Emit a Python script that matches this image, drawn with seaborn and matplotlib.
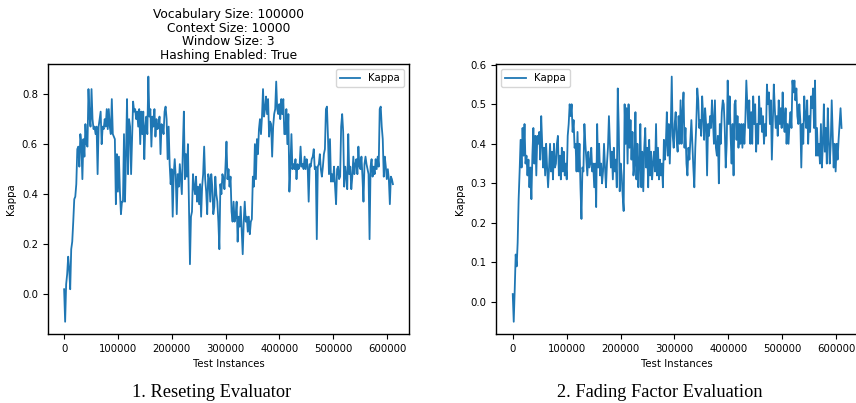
import numpy as np
import pandas as pd
import matplotlib
matplotlib.use("Agg")
import matplotlib.pyplot as plt
import seaborn as sns

# Kappa readings, one every ~1850 test instances
reset_kappa = [
    0.02, -0.11, 0.04, 0.08, 0.15, 0.10, 0.02, 0.18, 0.21, 0.29, 0.38, 0.39, 0.44, 0.58, 0.59, 0.51,
    0.64, 0.60, 0.46, 0.62, 0.55, 0.68, 0.60, 0.59, 0.82, 0.71, 0.67, 0.82, 0.70, 0.66, 0.67, 0.64,
    0.67, 0.48, 0.67, 0.70, 0.73, 0.60, 0.67, 0.66, 0.70, 0.67, 0.74, 0.66, 0.74, 0.67, 0.64, 0.78,
    0.64, 0.63, 0.62, 0.36, 0.56, 0.41, 0.55, 0.41, 0.32, 0.37, 0.37, 0.64, 0.37, 0.56, 0.78, 0.48,
    0.70, 0.67, 0.48, 0.62, 0.77, 0.73, 0.74, 0.70, 0.73, 0.67, 0.74, 0.60, 0.73, 0.64, 0.73, 0.54,
    0.67, 0.71, 0.64, 0.87, 0.71, 0.74, 0.59, 0.71, 0.67, 0.74, 0.63, 0.70, 0.66, 0.67, 0.71, 0.56,
    0.68, 0.67, 0.64, 0.73, 0.75, 0.70, 0.54, 0.67, 0.52, 0.44, 0.50, 0.31, 0.48, 0.54, 0.47, 0.32,
    0.48, 0.43, 0.52, 0.46, 0.40, 0.58, 0.73, 0.46, 0.56, 0.47, 0.60, 0.37, 0.12, 0.31, 0.33, 0.48,
    0.43, 0.40, 0.47, 0.37, 0.43, 0.36, 0.44, 0.31, 0.43, 0.48, 0.59, 0.46, 0.41, 0.32, 0.48, 0.46,
    0.37, 0.48, 0.43, 0.32, 0.35, 0.47, 0.40, 0.37, 0.29, 0.18, 0.44, 0.40, 0.48, 0.46, 0.42, 0.51,
    0.61, 0.46, 0.50, 0.43, 0.47, 0.33, 0.29, 0.37, 0.29, 0.31, 0.37, 0.21, 0.31, 0.27, 0.35, 0.25,
    0.16, 0.29, 0.37, 0.29, 0.31, 0.25, 0.31, 0.24, 0.29, 0.30, 0.47, 0.43, 0.60, 0.46, 0.62, 0.56,
    0.66, 0.70, 0.64, 0.71, 0.82, 0.71, 0.74, 0.79, 0.72, 0.78, 0.63, 0.69, 0.68, 0.55, 0.67, 0.72,
    0.74, 0.85, 0.74, 0.72, 0.76, 0.70, 0.78, 0.72, 0.78, 0.64, 0.64, 0.74, 0.60, 0.72, 0.41, 0.51,
    0.64, 0.50, 0.52, 0.50, 0.54, 0.46, 0.52, 0.50, 0.51, 0.59, 0.51, 0.52, 0.50, 0.55, 0.50, 0.54,
    0.51, 0.37, 0.52, 0.51, 0.54, 0.55, 0.58, 0.50, 0.51, 0.22, 0.51, 0.52, 0.56, 0.50, 0.47, 0.51,
    0.56, 0.58, 0.74, 0.75, 0.63, 0.48, 0.62, 0.45, 0.48, 0.45, 0.51, 0.43, 0.36, 0.50, 0.51, 0.46,
    0.47, 0.67, 0.72, 0.65, 0.43, 0.51, 0.47, 0.42, 0.64, 0.48, 0.51, 0.42, 0.47, 0.55, 0.48, 0.52,
    0.54, 0.48, 0.59, 0.51, 0.50, 0.55, 0.47, 0.37, 0.52, 0.55, 0.52, 0.50, 0.48, 0.22, 0.51, 0.54,
    0.47, 0.51, 0.48, 0.54, 0.50, 0.55, 0.51, 0.74, 0.75, 0.67, 0.62, 0.47, 0.55, 0.51, 0.46, 0.50,
    0.46, 0.36, 0.47, 0.46, 0.44,
]

fading_kappa = [
    0.02, -0.05, 0.03, 0.12, 0.09, 0.15, 0.26, 0.33,
    0.41, 0.34, 0.44, 0.37, 0.45, 0.35, 0.37, 0.32, 0.36, 0.29, 0.34, 0.26, 0.37, 0.44, 0.35, 0.42,
    0.32, 0.42, 0.40, 0.43, 0.36, 0.47, 0.40, 0.34, 0.39, 0.32, 0.40, 0.34, 0.29, 0.34, 0.40, 0.33,
    0.38, 0.31, 0.40, 0.34, 0.35, 0.40, 0.42, 0.32, 0.37, 0.31, 0.39, 0.33, 0.38, 0.32, 0.35, 0.31,
    0.42, 0.45, 0.50, 0.47, 0.50, 0.43, 0.46, 0.39, 0.40, 0.33, 0.43, 0.33, 0.40, 0.29, 0.21, 0.34,
    0.33, 0.45, 0.40, 0.36, 0.32, 0.38, 0.34, 0.35, 0.39, 0.33, 0.35, 0.29, 0.35, 0.24, 0.45, 0.34,
    0.40, 0.32, 0.35, 0.30, 0.33, 0.40, 0.34, 0.29, 0.35, 0.39, 0.47, 0.40, 0.34, 0.38, 0.31, 0.39,
    0.33, 0.36, 0.29, 0.54, 0.44, 0.28,
    0.35, 0.32, 0.27, 0.23, 0.50, 0.40, 0.49, 0.35, 0.50, 0.39, 0.46, 0.36, 0.43, 0.32, 0.35, 0.48,
    0.31, 0.40, 0.29, 0.35, 0.45, 0.29, 0.38, 0.28, 0.39, 0.44, 0.34, 0.39, 0.29, 0.41, 0.32, 0.38,
    0.31, 0.35, 0.38, 0.33, 0.45, 0.32, 0.39, 0.31, 0.36, 0.32, 0.35, 0.29, 0.41, 0.36, 0.40, 0.48,
    0.37, 0.45, 0.35, 0.44, 0.57, 0.42, 0.39, 0.45, 0.48, 0.41, 0.38, 0.47, 0.40, 0.51, 0.40, 0.48,
    0.53, 0.39, 0.44, 0.35, 0.32, 0.39, 0.36, 0.41, 0.46, 0.40, 0.34, 0.29, 0.39, 0.45, 0.54, 0.51,
    0.44, 0.46, 0.42, 0.52, 0.47, 0.41, 0.49, 0.45, 0.32, 0.45, 0.42, 0.47, 0.44, 0.51, 0.46, 0.40,
    0.51, 0.39, 0.37, 0.42, 0.30, 0.45, 0.40, 0.48, 0.51, 0.50, 0.44, 0.34, 0.40, 0.56, 0.45, 0.52,
    0.42,
    0.35, 0.45, 0.32, 0.50, 0.51, 0.41, 0.47, 0.39, 0.45, 0.40, 0.45, 0.39, 0.45, 0.40, 0.46, 0.56,
    0.50, 0.44, 0.51, 0.40, 0.48, 0.40, 0.52, 0.45, 0.50, 0.38, 0.45, 0.40, 0.52, 0.45, 0.49, 0.43,
    0.47, 0.40, 0.45, 0.42, 0.55, 0.50, 0.53, 0.45, 0.51, 0.36, 0.45, 0.55, 0.49, 0.44, 0.47, 0.42,
    0.51, 0.45, 0.49, 0.44, 0.53, 0.46, 0.43, 0.49, 0.40, 0.45, 0.40, 0.45, 0.48, 0.44, 0.56, 0.53,
    0.56, 0.51, 0.54, 0.47, 0.45, 0.50, 0.46, 0.34, 0.45, 0.40, 0.52, 0.47, 0.44, 0.51, 0.40, 0.47,
    0.43, 0.52, 0.49, 0.54, 0.44, 0.56, 0.37, 0.44, 0.37, 0.40, 0.35, 0.45, 0.34, 0.40, 0.50, 0.38,
    0.44, 0.35, 0.49, 0.41, 0.35, 0.40, 0.51, 0.42, 0.34, 0.40, 0.33, 0.40, 0.36, 0.41, 0.45, 0.49,
    0.44,
]

reset_x = np.linspace(0, 611000, len(reset_kappa))
fading_x = np.linspace(0, 610000, len(fading_kappa))

reset_df = pd.DataFrame({"Test Instances": reset_x, "Kappa": reset_kappa})
fading_df = pd.DataFrame({"Test Instances": fading_x, "Kappa": fading_kappa})

title = "Vocabulary Size: 100000\nContext Size: 10000\nWindow Size: 3\nHashing Enabled: True"

plt.rcParams["font.size"] = 7.3
plt.rcParams["axes.linewidth"] = 1.0

fig = plt.figure(figsize=(8.56, 4.03), dpi=100)
ax1 = fig.add_axes([0.0557, 0.1712, 0.4225, 0.6692])
ax2 = fig.add_axes([0.5798, 0.1712, 0.4225, 0.6692])

sns.lineplot(data=reset_df, x="Test Instances", y="Kappa", ax=ax1, label="Kappa",
             color="#1f77b4", linewidth=1.3)
sns.lineplot(data=fading_df, x="Test Instances", y="Kappa", ax=ax2, label="Kappa",
             color="#1f77b4", linewidth=1.3)

ax1.set_title(title, fontsize=8.8, linespacing=1.05, pad=4)
ax1.legend(loc="upper right", fontsize=7.3)
ax2.legend(loc="upper left", fontsize=7.3)

for ax in (ax1, ax2):
    ax.set_xticks([0, 100000, 200000, 300000, 400000, 500000, 600000])
    ax.xaxis.get_major_formatter().set_scientific(False)

fig.text(0.2477, 0.027, "1. Reseting Evaluator", ha="center", va="center",
         fontsize=13.2, family="Liberation Serif")
fig.text(0.771, 0.027, "2. Fading Factor Evaluation", ha="center", va="center",
         fontsize=13.2, family="Liberation Serif")

fig.savefig("out.png", dpi=100)
